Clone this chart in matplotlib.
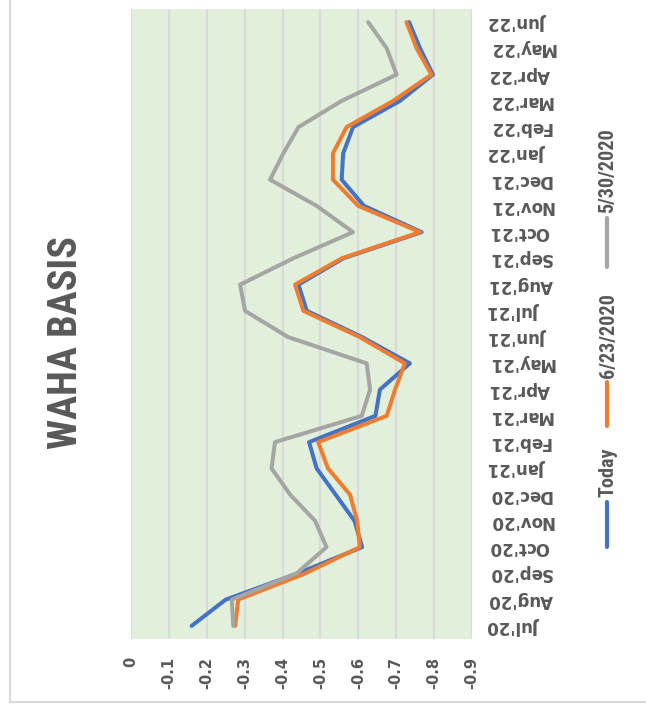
import matplotlib.pyplot as plt
from matplotlib.lines import Line2D

months = ["Jul'20", "Aug'20", "Sep'20", "Oct'20", "Nov'20", "Dec'20",
          "Jan'21", "Feb'21", "Mar'21", "Apr'21", "May'21", "Jun'21",
          "Jul'21", "Aug'21", "Sep'21", "Oct'21", "Nov'21", "Dec'21",
          "Jan'22", "Feb'22", "Mar'22", "Apr'22", "May'22", "Jun'22"]

today = [-0.16, -0.25, -0.44, -0.61, -0.59, -0.54, -0.49, -0.47, -0.645, -0.657,
         -0.736, -0.61, -0.464, -0.442, -0.56, -0.767, -0.615, -0.556, -0.56,
         -0.586, -0.71, -0.797, -0.763, -0.734]
jun23 = [-0.275, -0.283, -0.46, -0.604, -0.597, -0.578, -0.52, -0.494, -0.675,
         -0.697, -0.723, -0.604, -0.455, -0.433, -0.556, -0.763, -0.6, -0.533,
         -0.533, -0.569, -0.692, -0.793, -0.754, -0.727]
may30 = [-0.27, -0.266, -0.437, -0.516, -0.486, -0.42, -0.371, -0.38, -0.609,
         -0.631, -0.622, -0.415, -0.301, -0.288, -0.428, -0.586, -0.49, -0.367,
         -0.402, -0.442, -0.556, -0.701, -0.675, -0.626]

value_ticks = [0, -0.1, -0.2, -0.3, -0.4, -0.5, -0.6, -0.7, -0.8, -0.9]
value_labels = ["0", "-0.1", "-0.2", "-0.3", "-0.4", "-0.5", "-0.6", "-0.7", "-0.8", "-0.9"]

series = [("Today", today, "#4472C4"),
          ("6/23/2020", jun23, "#ED7D31"),
          ("5/30/2020", may30, "#A5A5A5")]

txt = "#595959"
narrow = ["Roboto Condensed", "Open Sans Condensed", "Roboto", "DejaVu Sans"]

fig = plt.figure(figsize=(6.46, 7.08), dpi=100)
ax = fig.add_axes([131 / 646, 69 / 708, 341 / 646, 630 / 708])
ax.set_facecolor("#E2EFDA")

idx = list(range(len(months)))
for name, vals, col in series:
    ax.plot(vals, idx, color=col, lw=2.9, solid_capstyle="round", solid_joinstyle="round")

ax.set_xlim(0, -0.9)
ax.set_ylim(-0.5, len(months) - 0.5)
ax.set_xticks(value_ticks)
ax.set_xticklabels(value_labels, rotation=90, fontsize=10.5, fontweight="bold", color=txt)
ax.set_yticks(idx)
ax.set_yticklabels(months, rotation=180, fontsize=12, fontweight="bold", color=txt)
ax.yaxis.tick_right()
ax.tick_params(axis="x", length=0, pad=13)
ax.tick_params(axis="y", length=0, pad=12)
for lab in ax.get_yticklabels():
    lab.set_ha("left")
    lab.set_va("center")
ax.grid(axis="x", color="#D9D9D9", lw=1.5)
ax.set_axisbelow(True)
for s in ax.spines.values():
    s.set_visible(False)

# title, rotated like the rest of the chart
fig.text(66 / 646, 1 - 343 / 708, "WAHA BASIS", rotation=90, ha="center", va="center",
         fontsize=29, fontweight="bold", fontstretch="condensed", color=txt, family=narrow)

# legend, drawn by hand because it is rotated
leg_x = 607 / 646
leg = [(547, 502, 497), (426, 382, 378), (267, 218, 213)]
for (name, vals, col), (y0, y1, yt) in zip(series, leg):
    fig.add_artist(Line2D([leg_x, leg_x], [1 - y0 / 708, 1 - y1 / 708], color=col,
                          lw=3, solid_capstyle="round", transform=fig.transFigure))
    fig.text(leg_x + 1 / 646, 1 - yt / 708, name, rotation=90, ha="center", va="bottom",
             fontsize=14.5, fontweight="bold", fontstretch="condensed", color=txt,
             family=narrow)

# chart frame edges
fig.add_artist(Line2D([10 / 646, 10 / 646], [1, 6 / 708], color="#D9D9D9", lw=1.5,
                      transform=fig.transFigure))
fig.add_artist(Line2D([10 / 646, 1], [6 / 708, 6 / 708], color="#D9D9D9", lw=1.5,
                      transform=fig.transFigure))

fig.savefig("out.png", dpi=100)
